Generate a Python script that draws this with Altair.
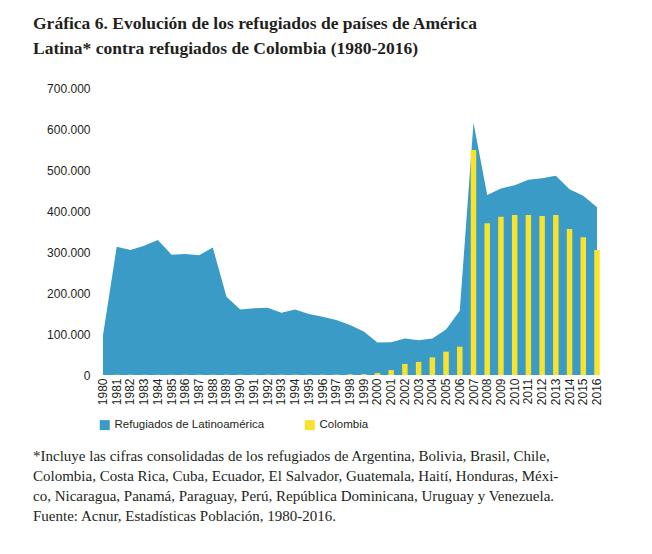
import altair as alt
import pandas as pd

years = list(range(1980, 2017))
latam = [97000, 313000, 305000, 315000, 329000, 293000, 295000, 292000, 311000, 191000,
         160000, 163000, 164000, 152000, 160000, 149000, 142000, 134000, 122000, 106000,
         79000, 80000, 89000, 85000, 89000, 111000, 157000, 615000, 439000, 455000,
         463000, 476000, 480000, 486000, 453000, 437000, 409000]
colombia = [0, 800, 800, 500, 500, 800, 800, 800, 800, 800,
            800, 800, 800, 800, 800, 800, 800, 1000, 2000, 2000,
            5000, 12000, 27000, 32000, 43000, 57000, 69000, 549000, 370000, 386000,
            390000, 390000, 388000, 390000, 356000, 336000, 305000]
series_names = ["Refugiados de Latinoamérica", "Colombia"]
series_colors = ["#3a9bc6", "#f8e22e"]
title_lines = ["Gráfica 6. Evolución de los refugiados de países de América",
               "Latina* contra refugiados de Colombia (1980-2016)"]
footnote_lines = [
    "*Incluye las cifras consolidadas de los refugiados de Argentina, Bolivia, Brasil, Chile,",
    "Colombia, Costa Rica, Cuba, Ecuador, El Salvador, Guatemala, Haití, Honduras, Méxi-",
    "co, Nicaragua, Panamá, Paraguay, Perú, República Dominicana, Uruguay y Venezuela.",
    "Fuente: Acnur, Estadísticas Población, 1980-2016.",
]

df_a = pd.DataFrame({"year": [str(y) for y in years], "value": latam, "serie": series_names[0]})
df_b = pd.DataFrame({"year": [str(y) for y in years], "value": colombia, "serie": series_names[1]})

xscale = alt.Scale(paddingInner=0.6, paddingOuter=0.31)
color = alt.Color("serie:N",
                  scale=alt.Scale(domain=series_names, range=series_colors),
                  legend=alt.Legend(title=None, orient="none", direction="horizontal",
                                    legendX=3, legendY=331, symbolType="square",
                                    symbolSize=100, symbolStrokeWidth=0,
                                    labelFont="Liberation Sans", labelFontSize=11.5,
                                    labelColor="#231f20", labelOffset=4,
                                    columnPadding=39))

xenc = alt.X("year:O", scale=xscale,
             axis=alt.Axis(title=None, labelAngle=270, domain=False, ticks=False,
                           labelPadding=3, labelFont="Liberation Sans",
                           labelFontSize=12, labelColor="#231f20"))
yenc = alt.Y("value:Q", scale=alt.Scale(domain=[0, 700000], nice=False),
             axis=alt.Axis(title=None, values=[0, 100000, 200000, 300000, 400000, 500000, 600000, 700000],
                           domain=False, ticks=False, grid=False, labelPadding=6,
                           labelFont="Liberation Sans", labelFontSize=12, labelColor="#231f20",
                           labelExpr="replace(format(datum.value, ','), regexp(',', 'g'), '.')"))

area = alt.Chart(df_a).mark_area(opacity=1).encode(x=xenc, y=yenc, color=color)
bars = alt.Chart(df_b).mark_bar().encode(x=xenc, y=yenc, color=color)

foot = alt.Chart(pd.DataFrame({"t": [0]})).mark_text(
    align="left", baseline="alphabetic", font="Liberation Serif", fontSize=15,
    lineHeight=20, color="#231f20"
).encode(x=alt.value(-63), y=alt.value(373), text=alt.value(footnote_lines))

chart = alt.layer(area, bars, foot).properties(
    width=508, height=287,
    padding={"left": 88, "top": 80, "right": 40, "bottom": 150},
    autosize=alt.AutoSizeParams(type="none"),
    title=alt.TitleParams(text=title_lines, anchor="start", frame="group", dx=-63,
                          offset=25, font="Liberation Serif", fontSize=17.5,
                          fontWeight="bold", color="#231f20", lineHeight=25),
).configure_view(stroke=None)

chart.save("out.html", embed_options={"renderer": "svg", "actions": False})
